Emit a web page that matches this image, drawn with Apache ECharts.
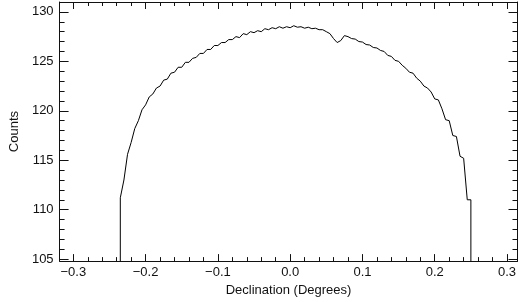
<!DOCTYPE html>
<html>
<head>
<meta charset="utf-8">
<script src="https://cdn.jsdelivr.net/npm/echarts@6/dist/echarts.min.js"></script>
<style>
  html, body { margin: 0; padding: 0; background: #fff; }
  #chart { width: 519px; height: 302px; }
</style>
</head>
<body>
<div id="chart"></div>
<script>
// declination (degrees) and counts
var decl = [
  -0.235, -0.235, -0.230, -0.225, -0.220, -0.215, -0.210, -0.205, -0.200, -0.195,
  -0.190, -0.185, -0.180, -0.175, -0.170, -0.165, -0.160, -0.155, -0.150, -0.145,
  -0.140, -0.135, -0.130, -0.125, -0.120, -0.115, -0.110, -0.105, -0.100, -0.095,
  -0.090, -0.085, -0.080, -0.075, -0.070, -0.065, -0.060, -0.055, -0.050, -0.045,
  -0.040, -0.035, -0.030, -0.025, -0.020, -0.015, -0.010, -0.005, 0.000, 0.005,
  0.010, 0.015, 0.020, 0.025, 0.030, 0.035, 0.040, 0.045, 0.050, 0.055,
  0.060, 0.065, 0.070, 0.075, 0.080, 0.085, 0.090, 0.095, 0.100, 0.105,
  0.110, 0.115, 0.120, 0.125, 0.130, 0.135, 0.140, 0.145, 0.150, 0.155,
  0.160, 0.165, 0.170, 0.175, 0.180, 0.185, 0.190, 0.195, 0.200, 0.205,
  0.210, 0.215, 0.220, 0.225, 0.230, 0.235, 0.240, 0.245, 0.250, 0.250
];
var counts = [
  104.0, 111.2, 113.0, 115.6, 116.8, 118.2, 119.0, 120.1, 120.6, 121.4,
  121.7, 122.3, 122.5, 123.1, 123.2, 123.8, 123.9, 124.4, 124.4, 124.9,
  124.9, 125.3, 125.4, 125.8, 125.8, 126.2, 126.2, 126.6, 126.6, 126.9,
  126.9, 127.2, 127.2, 127.5, 127.4, 127.8, 127.7, 128.0, 127.9, 128.1,
  128.0, 128.3, 128.2, 128.4, 128.3, 128.5, 128.35, 128.5, 128.4, 128.6,
  128.45, 128.5, 128.35, 128.45, 128.3, 128.35, 128.2, 128.2, 128.0, 127.8,
  127.3, 126.9, 127.1, 127.6, 127.5, 127.3, 127.25, 127.0, 126.95, 126.7,
  126.65, 126.4, 126.35, 126.1, 126.0, 125.6, 125.5, 125.1, 125.0, 124.6,
  124.3, 123.9, 123.8, 123.3, 123.0, 122.5, 122.3, 121.9, 121.2, 121.1,
  120.2, 119.1, 119.0, 117.5, 117.4, 115.4, 115.2, 111.0, 111.0, 104.0
];

var xTicks = [-0.3, -0.2, -0.1, 0, 0.1, 0.2, 0.3];
var xMinorTicks = [-0.28, -0.26, -0.24, -0.22, -0.18, -0.16, -0.14, -0.12,
  -0.08, -0.06, -0.04, -0.02, 0.02, 0.04, 0.06, 0.08, 0.12, 0.14, 0.16, 0.18,
  0.22, 0.24, 0.26, 0.28];
var yTicks = [105, 110, 115, 120, 125, 130];
var yMinorTicks = [106, 107, 108, 109, 111, 112, 113, 114, 116, 117, 118, 119,
  121, 122, 123, 124, 126, 127, 128, 129];

var xMin = -0.319, xMax = 0.3145;
var yMin = 104.8, yMax = 131.0;
var ink = "#111";
var font = "Liberation Sans";

var myChart = echarts.init(document.getElementById("chart"));

function xAx(pos, ticks, len, withLine, withLabel) {
  return {
    type: "value",
    position: pos,
    min: xMin,
    max: xMax,
    splitLine: { show: false },
    axisLine: { show: withLine, onZero: false, lineStyle: { color: ink, width: 1 } },
    axisTick: { show: true, inside: true, length: len, customValues: ticks, lineStyle: { color: ink } },
    axisLabel: {
      show: withLabel,
      customValues: ticks,
      margin: 5,
      fontFamily: font,
      fontSize: 13,
      color: ink,
      formatter: function (v) {
        return v.toFixed(1).replace("-", "\u2212");
      },
    },
  };
}

function yAx(pos, ticks, len, withLine, withLabel) {
  return {
    type: "value",
    position: pos,
    min: yMin,
    max: yMax,
    splitLine: { show: false },
    axisLine: { show: withLine, onZero: false, lineStyle: { color: ink, width: 1 } },
    axisTick: { show: true, inside: true, length: len, customValues: ticks, lineStyle: { color: ink } },
    axisLabel: {
      show: withLabel,
      customValues: ticks,
      margin: 6,
      fontFamily: font,
      fontSize: 13,
      color: ink,
    },
  };
}

var xBottom = xAx("bottom", xTicks, 7, true, true);
xBottom.name = "Declination (Degrees)";
xBottom.nameLocation = "middle";
xBottom.nameGap = 22;
xBottom.nameTextStyle = { fontFamily: font, fontSize: 13, color: ink };

var yLeft = yAx("left", yTicks, 9, true, true);
yLeft.name = "Counts";
yLeft.nameLocation = "middle";
yLeft.nameGap = 36;
yLeft.nameTextStyle = { fontFamily: font, fontSize: 13, color: ink };

var option = {
  animation: false,
  grid: { left: 49, right: 1.5, top: 2, bottom: 38 },
  xAxis: [
    xBottom,
    xAx("bottom", xMinorTicks, 4, false, false),
    xAx("top", xTicks, 7, true, false),
    xAx("top", xMinorTicks, 4, false, false),
  ],
  yAxis: [
    yLeft,
    yAx("left", yMinorTicks, 5, false, false),
    yAx("right", yTicks, 9, true, false),
    yAx("right", yMinorTicks, 5, false, false),
  ],
  series: [
    {
      type: "line",
      xAxisIndex: 0,
      yAxisIndex: 0,
      showSymbol: false,
      clip: true,
      lineStyle: { color: "#000", width: 1 },
      data: decl.map(function (d, i) {
        return [d, counts[i]];
      }),
    },
  ],
};
myChart.setOption(option);
</script>
</body>
</html>
